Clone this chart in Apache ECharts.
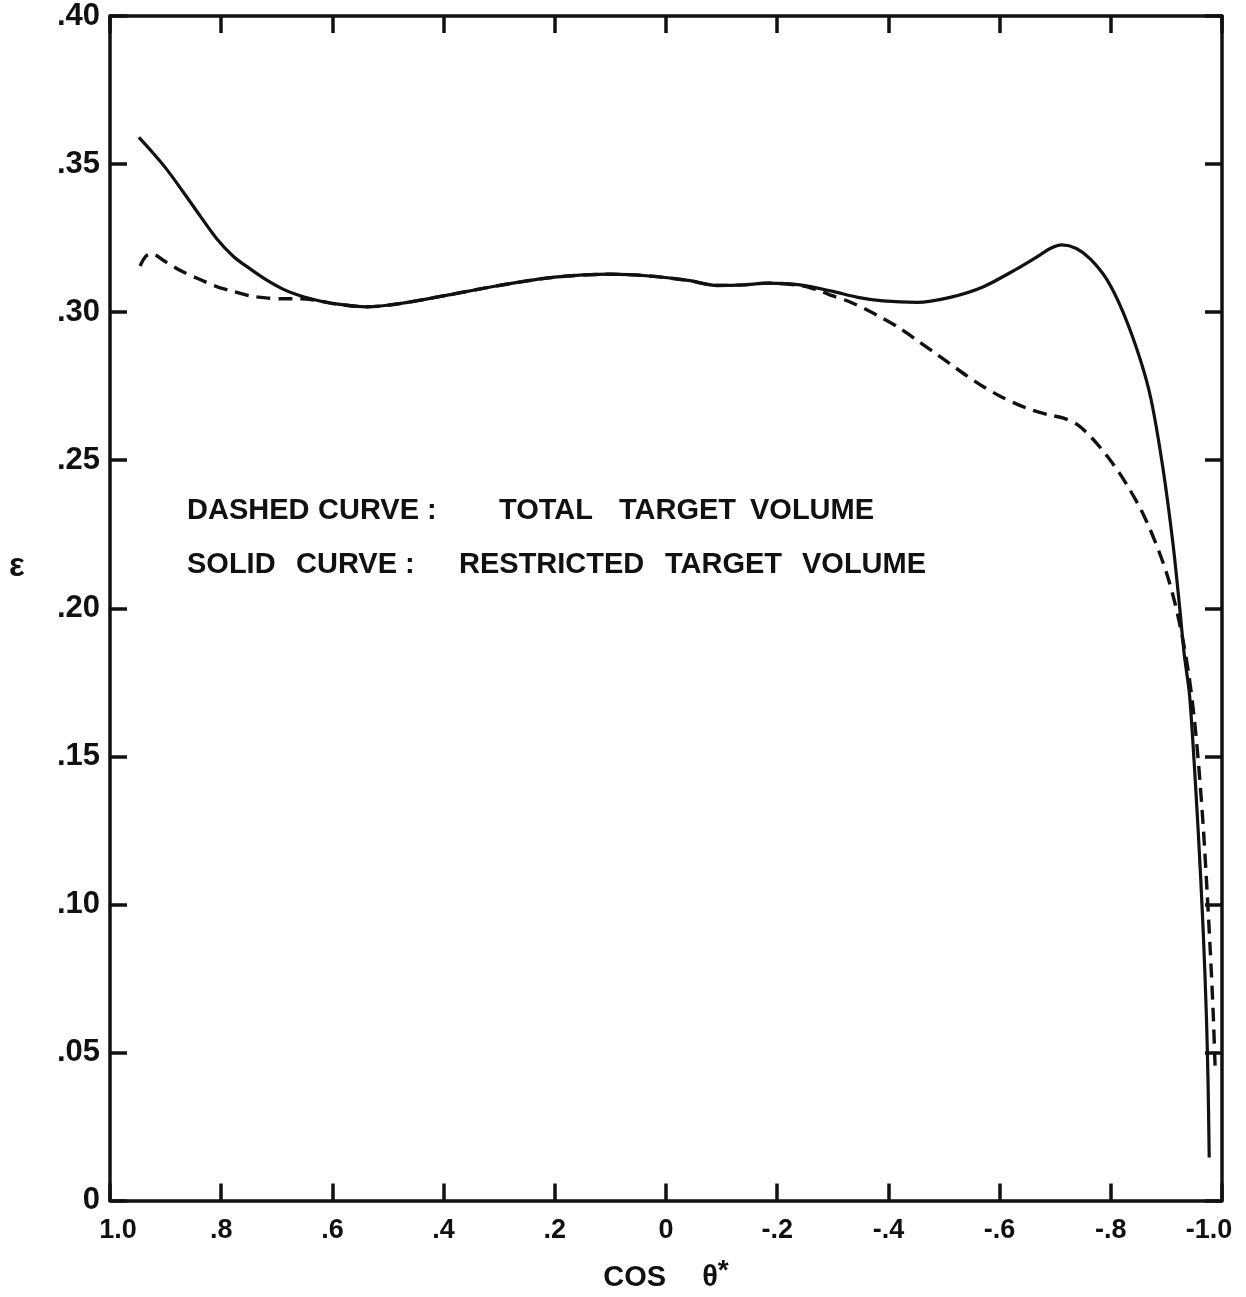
<!DOCTYPE html>
<html>
<head>
<meta charset="utf-8">
<script src="https://cdn.jsdelivr.net/npm/echarts@6/dist/echarts.min.js"></script>
<style>
  html, body { margin: 0; padding: 0; background: #ffffff; }
  #chart { width: 1246px; height: 1297px; }
</style>
</head>
<body>
<div id="chart"></div>
<script>
// ---- data ----
const xTickValues = [1.0, 0.8, 0.6, 0.4, 0.2, 0, -0.2, -0.4, -0.6, -0.8, -1.0];
const xTickLabels = ['1.0', '.8', '.6', '.4', '.2', '0', '-.2', '-.4', '-.6', '-.8', '-1.0'];
const yTickLabels = ['0', '.05', '.10', '.15', '.20', '.25', '.30', '.35', '.40'];

// Solid curve: restricted target volume
const solidCos = [0.948, 0.923, 0.898, 0.868, 0.838, 0.808, 0.778, 0.748, 0.718, 0.688, 0.658, 0.628, 0.599, 0.538, 0.478, 0.40, 0.30, 0.20, 0.10, 0.03, -0.04, -0.092, -0.14, -0.182, -0.241, -0.300, -0.345, -0.390, -0.451, -0.511, -0.570, -0.631, -0.670, -0.691, -0.712, -0.738, -0.763, -0.793, -0.822, -0.853, -0.873, -0.894, -0.912, -0.924, -0.932, -0.942, -0.957, -0.966, -0.972, -0.975, -0.977];
const solidEps = [0.359, 0.3538, 0.3482, 0.3405, 0.3325, 0.3248, 0.3188, 0.3146, 0.3108, 0.3077, 0.3055, 0.304, 0.3029, 0.3018, 0.3029, 0.3055, 0.309, 0.3118, 0.3128, 0.3122, 0.3107, 0.309, 0.3092, 0.3098, 0.3092, 0.307, 0.305, 0.3038, 0.3033, 0.305, 0.3085, 0.3146, 0.319, 0.3215, 0.3227, 0.3215, 0.318, 0.311, 0.300, 0.284, 0.270, 0.247, 0.2215, 0.200, 0.1845, 0.170, 0.1254, 0.0918, 0.062, 0.039, 0.0145];

// Dashed curve: total target volume
const dashedCos = [0.946, 0.935, 0.925, 0.90, 0.869, 0.838, 0.808, 0.778, 0.748, 0.719, 0.689, 0.658, 0.628, 0.599, 0.538, 0.478, 0.40, 0.30, 0.20, 0.10, 0.03, -0.04, -0.092, -0.14, -0.182, -0.241, -0.272, -0.300, -0.330, -0.361, -0.391, -0.421, -0.450, -0.480, -0.511, -0.541, -0.571, -0.601, -0.630, -0.660, -0.691, -0.715, -0.740, -0.766, -0.793, -0.815, -0.835, -0.855, -0.871, -0.887, -0.901, -0.915, -0.928, -0.940, -0.950, -0.958, -0.966, -0.973, -0.979, -0.984, -0.988];
const dashedEps = [0.3156, 0.319, 0.3197, 0.317, 0.3136, 0.311, 0.3086, 0.307, 0.3055, 0.3048, 0.3045, 0.3045, 0.304, 0.3029, 0.3018, 0.3029, 0.3055, 0.309, 0.3118, 0.3128, 0.3122, 0.3107, 0.309, 0.3092, 0.3098, 0.309, 0.3075, 0.3055, 0.3035, 0.3008, 0.2978, 0.2945, 0.2907, 0.2867, 0.2825, 0.2785, 0.2748, 0.2716, 0.269, 0.2668, 0.2652, 0.2642, 0.262, 0.2575, 0.2515, 0.2458, 0.2398, 0.233, 0.2265, 0.219, 0.2115, 0.202, 0.191, 0.178, 0.163, 0.147, 0.127, 0.105, 0.084, 0.064, 0.043];

const legendLine1 = ['DASHED', 'CURVE :', 'TOTAL', 'TARGET', 'VOLUME'];
const legendLine2 = ['SOLID', 'CURVE :', 'RESTRICTED', 'TARGET', 'VOLUME'];

// ---- chart ----
const FONT = '"Liberation Sans", Arial, sans-serif';
const INK = '#111111';
const chart = echarts.init(document.getElementById('chart'), null, { renderer: 'canvas' });

function xLabel(v) {
  const i = Math.round((1 - v) / 0.2);
  const s = xTickLabels[i];
  if (i === 0) return '{l|' + s + '}';
  if (i === xTickLabels.length - 1) return '{r|' + s + '}';
  return s;
}
function yLabel(v) {
  return yTickLabels[Math.round(v / 0.05)];
}

const axisLine = { show: true, onZero: false, lineStyle: { color: INK, width: 3.5 } };
const tick = { show: true, inside: true, length: 17, lineStyle: { color: INK, width: 3.5 } };

const line1X = [187, 318, 499, 619, 750];
const line2X = [187, 296, 459, 665, 802];
const graphics = [];
legendLine1.forEach((w, i) => graphics.push({
  type: 'text', left: line1X[i], top: 496,
  style: { text: w, font: 'bold 29px ' + FONT, fill: INK }
}));
legendLine2.forEach((w, i) => graphics.push({
  type: 'text', left: line2X[i], top: 550,
  style: { text: w, font: 'bold 29px ' + FONT, fill: INK }
}));
graphics.push({
  type: 'text', left: 9, top: 550,
  style: { text: 'ε', font: 'bold 33px ' + FONT, fill: INK }
});

chart.setOption({
  animation: false,
  backgroundColor: '#ffffff',
  grid: { left: 110, right: 24, top: 16, bottom: 91, containLabel: false },
  xAxis: [
    {
      type: 'value', position: 'bottom', inverse: true,
      min: -1, max: 1, interval: 0.2,
      axisLine: axisLine, axisTick: tick, splitLine: { show: false },
      axisLabel: {
        show: true, margin: 17, color: INK, fontSize: 27, fontWeight: 'bold', fontFamily: FONT,
        formatter: xLabel,
        rich: {
          l: { fontSize: 27, fontWeight: 'bold', fontFamily: FONT, color: INK, padding: [0, 0, 0, 16] },
          r: { fontSize: 27, fontWeight: 'bold', fontFamily: FONT, color: INK, padding: [0, 26, 0, 0] }
        }
      },
      name: '{a|COS}{g|}{b|θ}{s|*}',
      nameLocation: 'middle', nameGap: 57,
      nameTextStyle: {
        rich: {
          a: { fontSize: 29, fontWeight: 'bold', fontFamily: FONT, color: INK },
          g: { width: 36 },
          b: { fontSize: 29, fontWeight: 'bold', fontFamily: FONT, color: INK },
          s: { fontSize: 28, fontWeight: 'bold', fontFamily: FONT, color: INK, verticalAlign: 'top', padding: [0, 0, 12, 0] }
        }
      }
    },
    {
      type: 'value', position: 'top', inverse: true,
      min: -1, max: 1, interval: 0.2,
      axisLine: axisLine, axisTick: tick, splitLine: { show: false },
      axisLabel: { show: false }
    }
  ],
  yAxis: [
    {
      type: 'value', position: 'left',
      min: 0, max: 0.4, interval: 0.05,
      axisLine: axisLine, axisTick: tick, splitLine: { show: false },
      axisLabel: {
        show: true, margin: 10, color: INK, fontSize: 31, fontWeight: 'bold', fontFamily: FONT,
        formatter: yLabel
      }
    },
    {
      type: 'value', position: 'right',
      min: 0, max: 0.4, interval: 0.05,
      axisLine: axisLine, axisTick: tick, splitLine: { show: false },
      axisLabel: { show: false }
    }
  ],
  graphic: graphics,
  series: [
    {
      name: 'Restricted target volume', type: 'line',
      xAxisIndex: 0, yAxisIndex: 0,
      data: solidCos.map((c, i) => [c, solidEps[i]]),
      showSymbol: false, smooth: 0.3,
      lineStyle: { color: INK, width: 3.2, type: 'solid' }
    },
    {
      name: 'Total target volume', type: 'line',
      xAxisIndex: 0, yAxisIndex: 0,
      data: dashedCos.map((c, i) => [c, dashedEps[i]]),
      showSymbol: false, smooth: 0.3,
      lineStyle: { color: INK, width: 3.4, type: [14, 8] }
    }
  ]
});
</script>
</body>
</html>
